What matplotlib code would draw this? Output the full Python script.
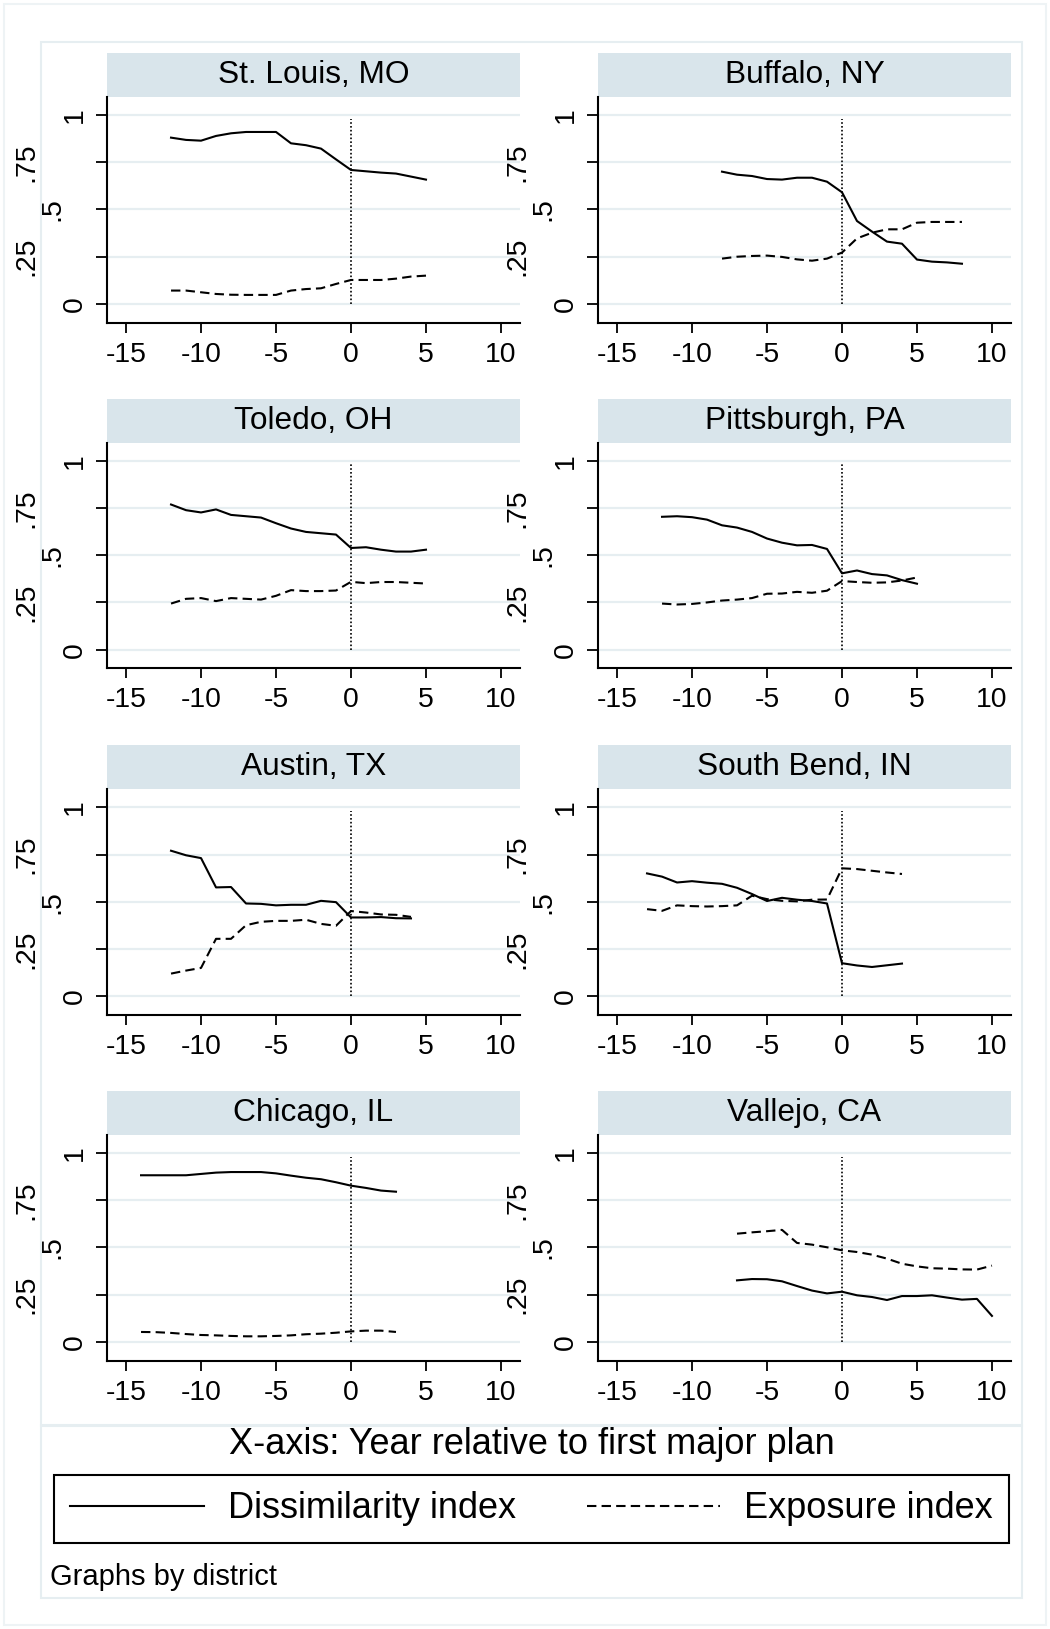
import matplotlib
matplotlib.use("Agg")
import matplotlib.pyplot as plt
from matplotlib.patches import Rectangle

plt.rcParams['font.family'] = ['Liberation Sans', 'DejaVu Sans']
plt.rcParams['axes.unicode_minus'] = False

districts = ["St. Louis, MO", "Buffalo, NY", "Toledo, OH", "Pittsburgh, PA",
             "Austin, TX", "South Bend, IN", "Chicago, IL", "Vallejo, CA"]

# first year (relative to the first major plan) with data, per district
first_year = [-12, -8, -12, -12, -12, -13, -14, -7]

# dissimilarity index, one value per year
dis_stlouis = [0.88, 0.868, 0.864, 0.889, 0.903, 0.91, 0.91, 0.91, 0.85, 0.84,
               0.822, 0.765, 0.709, 0.702, 0.695, 0.69, 0.674, 0.658]
dis_buffalo = [0.70, 0.684, 0.677, 0.661, 0.658, 0.668, 0.668, 0.647, 0.591,
               0.439, 0.383, 0.330, 0.319, 0.235, 0.224, 0.220, 0.213]
dis_toledo = [0.768, 0.738, 0.726, 0.742, 0.713, 0.706, 0.699, 0.669, 0.641,
              0.623, 0.616, 0.609, 0.538, 0.542, 0.529, 0.519, 0.519, 0.529]
dis_pittsburgh = [0.703, 0.706, 0.701, 0.688, 0.658, 0.646, 0.623, 0.588, 0.566,
                  0.552, 0.554, 0.533, 0.404, 0.419, 0.40, 0.393, 0.368, 0.349]
dis_austin = [0.770, 0.746, 0.731, 0.576, 0.578, 0.491, 0.489, 0.481, 0.484,
              0.484, 0.505, 0.498, 0.417, 0.417, 0.419, 0.413, 0.412]
dis_southbend = [0.650, 0.633, 0.602, 0.609, 0.601, 0.595, 0.574, 0.541, 0.504,
                 0.521, 0.511, 0.504, 0.491, 0.175, 0.163, 0.155, 0.164, 0.173]
dis_chicago = [0.882, 0.882, 0.882, 0.882, 0.889, 0.896, 0.899, 0.899, 0.899,
               0.892, 0.880, 0.869, 0.861, 0.845, 0.827, 0.815, 0.801, 0.795]
dis_vallejo = [0.326, 0.333, 0.332, 0.321, 0.296, 0.272, 0.257, 0.266, 0.247,
               0.238, 0.222, 0.243, 0.243, 0.247, 0.235, 0.224, 0.228, 0.138]

# exposure index, one value per year
exp_stlouis = [0.071, 0.071, 0.062, 0.053, 0.049, 0.048, 0.048, 0.048, 0.071,
               0.079, 0.083, 0.106, 0.127, 0.127, 0.127, 0.134, 0.145, 0.15]
exp_buffalo = [0.240, 0.25, 0.254, 0.256, 0.249, 0.236, 0.229, 0.240, 0.272,
               0.347, 0.377, 0.395, 0.395, 0.43, 0.434, 0.434, 0.434]
exp_toledo = [0.244, 0.269, 0.273, 0.257, 0.273, 0.269, 0.265, 0.285, 0.315,
              0.31, 0.31, 0.313, 0.359, 0.352, 0.358, 0.358, 0.354, 0.350]
exp_pittsburgh = [0.244, 0.239, 0.242, 0.25, 0.26, 0.265, 0.273, 0.296, 0.297,
                  0.306, 0.301, 0.312, 0.363, 0.358, 0.354, 0.356, 0.366, 0.382]
exp_austin = [0.120, 0.136, 0.150, 0.304, 0.304, 0.376, 0.394, 0.399, 0.399,
              0.405, 0.383, 0.373, 0.451, 0.443, 0.433, 0.431, 0.420]
exp_southbend = [0.461, 0.452, 0.481, 0.477, 0.475, 0.477, 0.481, 0.532, 0.514,
                 0.505, 0.502, 0.511, 0.512, 0.677, 0.673, 0.664, 0.655, 0.647]
exp_chicago = [0.053, 0.052, 0.048, 0.042, 0.037, 0.035, 0.032, 0.030, 0.030,
               0.032, 0.035, 0.041, 0.044, 0.049, 0.056, 0.06, 0.06, 0.053]
exp_vallejo = [0.573, 0.580, 0.586, 0.593, 0.524, 0.515, 0.501, 0.485, 0.476,
               0.462, 0.441, 0.414, 0.400, 0.390, 0.388, 0.384, 0.383, 0.404]

dissimilarity = [dis_stlouis, dis_buffalo, dis_toledo, dis_pittsburgh,
                 dis_austin, dis_southbend, dis_chicago, dis_vallejo]
exposure = [exp_stlouis, exp_buffalo, exp_toledo, exp_pittsburgh,
            exp_austin, exp_southbend, exp_chicago, exp_vallejo]

xticks = [-15, -10, -5, 0, 5, 10]
yticks = [0, 0.25, 0.5, 0.75, 1]
ylabels = ["0", ".25", ".5", ".75", "1"]
ylabel_offset = [19, 68, 42, 68, 19]   # staggered labels, px left of axis

W, H = 1050, 1629
fig = plt.figure(figsize=(W / 100, H / 100), dpi=100)

col_x = [107, 598]
row_top = [97, 442.7, 789.3, 1135]
ax_w, ax_h = 413, 225.7
strip_h = 44
grid_col = '#e6eef1'
strip_col = '#d9e5eb'

lines = []
for i, name in enumerate(districts):
    r, c = divmod(i, 2)
    ax = fig.add_axes([col_x[c] / W, 1 - (row_top[r] + ax_h) / H, ax_w / W, ax_h / H])
    years = list(range(first_year[i], first_year[i] + len(dissimilarity[i])))
    l1, = ax.plot(years, dissimilarity[i], color='black', lw=1.5)
    l2, = ax.plot(years, exposure[i], color='black', lw=1.5, dashes=(4.5, 2.5))
    lines = [l1, l2]
    ax.vlines(0, 0, 0.98, colors='black', lw=1.2, linestyles=(0, (1, 1.3)))

    ax.set_xlim(-16.27, 11.27)
    ax.set_ylim(-0.099, 1.095)
    ax.set_xticks(xticks)
    ax.set_yticks(yticks)
    ax.tick_params(axis='x', length=7.2, width=1.3, pad=6.5, labelsize=20.4)
    ax.tick_params(axis='y', length=8, width=1.3, labelleft=False)
    ax.grid(axis='y', color=grid_col, lw=1.6)
    ax.set_axisbelow(True)
    for s in ['top', 'right']:
        ax.spines[s].set_visible(False)
    for s in ['left', 'bottom']:
        ax.spines[s].set_linewidth(1.5)

    for v, lab, off in zip(yticks, ylabels, ylabel_offset):
        ax.annotate(lab, xy=(0, v), xycoords=('axes fraction', 'data'),
                    xytext=(-off, 0), textcoords='offset pixels',
                    rotation=90, ha='right', va='center', fontsize=20.4)

    ax.add_patch(Rectangle((0, 1), 1, strip_h / ax_h, transform=ax.transAxes,
                           clip_on=False, facecolor=strip_col, edgecolor='none'))
    ax.text(0.5, 1 + strip_h / ax_h / 2, name, transform=ax.transAxes,
            ha='center', va='center', fontsize=22.8)

# outer frames
def frame(x0, y0, x1, y1, col):
    fig.add_artist(Rectangle((x0 / W, 1 - y1 / H), (x1 - x0) / W, (y1 - y0) / H,
                             transform=fig.transFigure, fill=False,
                             edgecolor=col, lw=1.5))

frame(4, 4, 1046, 1625, '#eef3f5')
frame(41, 42, 1022, 1425, '#e6eef1')
frame(41, 1426, 1022, 1598, '#e6eef1')

fig.text(532 / W, 1 - 1445 / H, "X-axis: Year relative to first major plan",
         ha='center', va='center', fontsize=26)

leg = fig.legend(lines, ["Dissimilarity index", "Exposure index"],
                 loc='upper left', bbox_to_anchor=(54 / W, 1 - 1475 / H),
                 ncol=2, frameon=True, fancybox=False, edgecolor='black',
                 framealpha=1, fontsize=26, handlelength=3.7, handletextpad=0.67,
                 columnspacing=1.95, borderpad=0.45, borderaxespad=0)
leg.get_frame().set_linewidth(1.5)

fig.text(50 / W, 1 - 1577 / H, "Graphs by district", ha='left', va='center',
         fontsize=21)

fig.savefig('out.png', dpi=100)
